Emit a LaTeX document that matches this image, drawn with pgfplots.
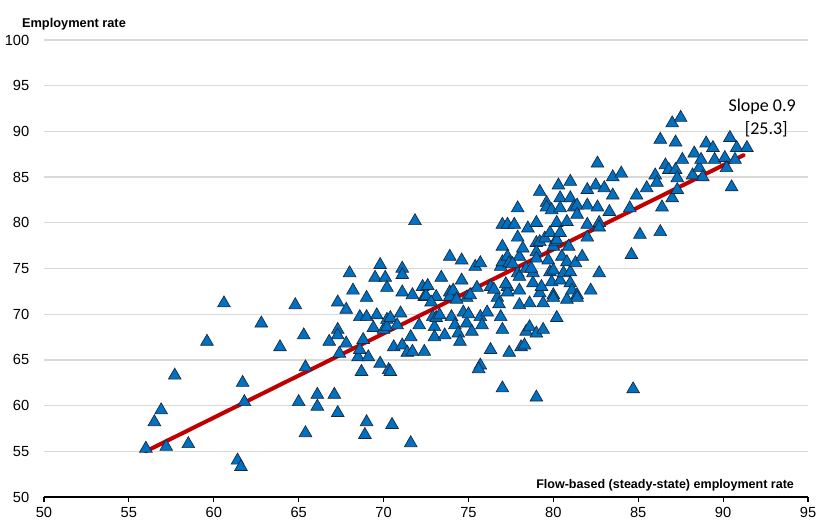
\documentclass[border=0pt]{standalone}
\usepackage{pgfplots}
\pgfplotsset{compat=1.18}
\usepackage{fontspec}
\setmainfont{Liberation Sans}
\newfontfamily\calib{Carlito}
\definecolor{mkblue}{RGB}{0,112,192}
\definecolor{mkedge}{RGB}{25,40,60}
\definecolor{fitred}{RGB}{192,0,0}
\definecolor{gridgrey}{RGB}{217,217,217}
\begin{document}
\begin{tikzpicture}
\useasboundingbox (-33pt,-17.25pt) rectangle (579pt,372.75pt);
\begin{axis}[
  scale only axis, width=573pt, height=342.75pt,
  xmin=50, xmax=95, ymin=50, ymax=100,
  xtick={50,55,...,95}, ytick={50,55,...,100},
  separate axis lines,
  axis x line*=bottom,
  y axis line style={draw=none},
  x axis line style={black, line width=0.8pt, -},
  ytick style={draw=none},
  xtick style={black, line width=0.8pt},
  tick align=outside, major tick length=3.5pt,
  ymajorgrids, grid style={gridgrey, line width=1pt},
  ticklabel style={font=\fontsize{11}{13}\selectfont},
  /pgf/number format/assume math mode=true,
  yticklabel style={xshift=-4pt},
  xticklabel style={yshift=-1pt},
  xlabel={\textbf{Flow-based (steady-state) employment rate}},
  xlabel style={at={(axis description cs:1,0)}, anchor=east, xshift=-7pt, yshift=9pt, font=\fontsize{9.4}{11}\selectfont},
  ylabel={\textbf{Employment rate}},
  ylabel style={rotate=-90, at={(axis description cs:0,1)}, anchor=west, xshift=-20pt, yshift=11.5pt, font=\fontsize{9.6}{11}\selectfont},
  clip=false,
]
\addplot[only marks, mark=triangle*, mark size=5.5pt,
  mark options={fill=mkblue, draw=mkedge, line width=0.5pt}] coordinates {
(56.0,55.3) (56.5,58.2) (56.9,59.5) (57.2,55.5) (57.7,63.3) (58.5,55.8)
(59.6,67.0) (60.6,71.2) (61.4,54.0) (61.6,53.3) (61.7,62.5) (61.8,60.4)
(62.8,69.0) (63.9,66.4) (64.8,71.0) (65.0,60.4) (65.3,67.7) (65.4,57.0)
(65.4,64.2) (66.1,61.2) (66.1,59.9) (66.8,67.0) (67.1,61.2) (67.3,59.2)
(67.3,71.3) (67.3,68.3) (67.3,67.7) (67.4,65.7) (67.8,70.5) (67.8,66.8)
(68.0,74.5) (68.2,72.6) (68.5,65.3) (68.6,69.7) (68.6,66.1) (68.7,63.7)
(68.8,67.2) (68.9,56.8) (69.0,58.2) (69.0,71.8) (69.0,69.7) (69.1,65.3)
(69.4,68.5) (69.5,74.0) (69.6,69.9) (69.8,75.4) (69.8,64.6) (70.0,68.3)
(70.1,74.0) (70.2,72.9) (70.2,69.4) (70.2,68.6) (70.3,63.9) (70.4,63.7)
(70.4,69.6) (70.5,57.9) (70.6,66.4) (70.8,68.8) (71.0,70.1) (71.1,75.0)
(71.1,74.3) (71.1,72.4) (71.1,66.6) (71.4,65.8) (71.6,67.5) (71.6,55.9)
(71.7,72.1) (71.7,65.9) (71.85,80.2) (72.1,68.8) (72.3,73.0) (72.4,65.9)
(72.4,71.9) (72.5,72.0) (72.6,73.1) (72.9,69.7) (73.0,68.6) (73.0,67.5)
(73.1,71.9) (73.1,69.6) (73.3,69.9) (73.4,74.0) (73.9,76.3) (73.9,72.4)
(73.9,71.9) (74.0,69.7) (74.1,72.6) (74.2,68.8) (74.4,67.9) (74.5,67.0)
(74.6,75.9) (74.6,73.7) (74.7,70.2) (74.9,71.8) (74.9,69.0) (75.2,68.1)
(75.4,75.2) (75.5,72.9) (75.1,72.1) (75.7,75.6) (75.7,69.7) (75.7,64.4)
(75.6,64.0) (75.8,68.8) (76.3,73.0) (76.3,66.1) (76.7,71.8) (76.9,75.2)
(76.9,69.7) (77.0,77.4) (77.0,68.3) (77.0,61.9) (77.0,79.8) (77.0,75.7)
(77.3,79.8) (77.3,76.3) (77.3,73.0) (77.3,72.4) (77.4,75.6) (77.4,65.8)
(77.7,79.8) (77.9,81.6) (77.9,78.4) (77.9,74.5) (78.0,76.3) (78.0,74.1)
(78.0,72.6) (78.0,71.0) (78.1,66.4) (78.2,77.2) (78.3,66.6) (78.4,75.0)
(78.4,68.1) (78.5,79.4) (78.6,71.2) (78.6,68.6) (78.8,74.5) (78.8,73.4)
(79.0,80.0) (79.0,77.8) (79.0,76.8) (79.0,76.1) (79.0,67.9) (79.0,60.9)
(79.2,83.4) (79.2,77.9) (79.2,72.3) (79.3,73.0) (79.4,71.2) (79.4,68.3)
(79.5,78.3) (79.6,82.2) (79.6,81.7) (79.7,75.9) (79.8,78.9) (79.8,74.6)
(79.9,81.4) (79.9,73.5) (80.0,77.4) (80.0,74.8) (80.0,72.1) (80.0,71.8)
(80.1,77.9) (80.2,80.0) (80.2,78.1) (80.2,69.6) (80.3,84.1) (80.4,82.7)
(80.4,81.6) (80.4,78.9) (80.4,73.7) (80.5,76.3) (80.6,74.5) (80.8,80.1)
(80.8,75.7) (80.8,71.6) (80.9,77.4) (81.0,84.5) (81.0,82.7) (81.0,74.6)
(81.0,73.4) (81.1,72.6) (81.2,81.7) (81.3,75.6) (81.4,81.9) (81.4,80.9)
(81.4,72.1) (81.4,71.8) (81.7,76.3) (82.0,83.6) (82.0,81.9) (82.0,79.8)
(82.0,78.4) (82.2,72.6) (82.5,84.1) (82.6,86.5) (82.6,81.7) (82.7,80.0)
(82.7,79.5) (82.7,74.5) (83.0,83.8) (83.3,81.2) (83.5,83.0) (83.5,85.0)
(84.0,85.4) (84.5,81.6) (84.6,76.5) (84.7,61.8) (84.9,83.0) (85.1,78.7)
(85.5,83.8) (86.0,85.2) (86.1,84.4) (86.3,89.1) (86.3,79.0) (86.4,81.7)
(86.6,86.3) (86.8,85.8) (87.0,90.9) (87.0,82.7) (87.2,88.8) (87.2,85.8)
(87.3,84.9) (87.3,83.6) (87.5,91.5) (87.6,86.9) (88.2,85.2) (88.3,87.6)
(88.6,86.0) (88.7,86.9) (88.8,85.0) (89.0,88.7) (89.4,88.2) (89.5,86.9)
(90.1,87.1) (90.2,86.0) (90.4,89.3) (90.5,83.9) (90.7,86.9) (90.8,88.2)
(91.4,88.2)
(72.8,71.3) (73.6,67.7) (74.3,71.6) (75.0,70.0) (76.1,70.2) (76.5,72.7)
(76.8,71.1) (77.2,73.3) (77.6,75.5) (78.7,75.0)
};
\addplot[fitred, line width=3pt, line cap=round] coordinates {(56.0,55.0) (91.2,87.4)};
\node[font=\calib\fontsize{13.5}{17}\selectfont, align=center] at (axis cs:92.3,91.5) {Slope 0.9\\\ \ [25.3]};
\end{axis}
\end{tikzpicture}
\end{document}
